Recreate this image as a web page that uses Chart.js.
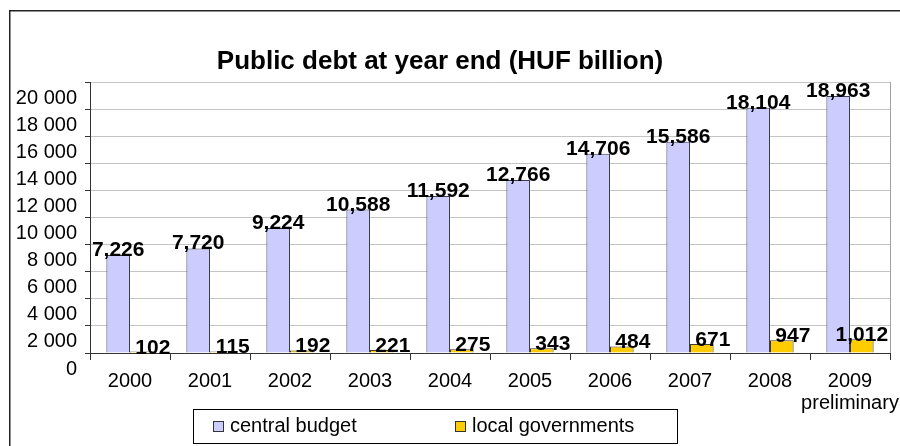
<!DOCTYPE html>
<html>
<head>
<meta charset="utf-8">
<title>Public debt at year end</title>
<script src="https://cdn.jsdelivr.net/npm/chart.js@4.4.1/dist/chart.umd.min.js"></script>
<style>
  html, body { margin: 0; padding: 0; background: #fff; }
  #debtChart { display: block; }
</style>
</head>
<body>
<canvas id="debtChart" width="900" height="446"></canvas>
<script>
// HUF billion, year end
const years = ["2000", "2001", "2002", "2003", "2004", "2005", "2006", "2007", "2008", ["2009", "preliminary"]];
const centralBudget = [7226, 7720, 9224, 10588, 11592, 12766, 14706, 15586, 18104, 18963];
const localGovernments = [102, 115, 192, 221, 275, 343, 484, 671, 947, 1012];
const yMin = 0;
const yMax = 20000;
const yStep = 2000;

const FONT = "Arial, 'Liberation Sans', sans-serif";
Chart.defaults.font.family = FONT;
Chart.defaults.color = "#000";

// 20000 -> "20 000"
function spaced(v) {
  return String(v).replace(/\B(?=(\d{3})+(?!\d))/g, " ");
}
// 18963 -> "18,963"
function commas(v) {
  return String(v).replace(/\B(?=(\d{3})+(?!\d))/g, ",");
}

// white page, outer frame, title and the plot-area border
const frame = {
  id: "frame",
  beforeDraw(chart) {
    const ctx = chart.ctx;
    const a = chart.chartArea;
    ctx.save();
    ctx.fillStyle = "#fff";
    ctx.fillRect(0, 0, chart.width, chart.height);
    ctx.strokeStyle = "#222";
    ctx.lineWidth = 1.5;
    ctx.strokeRect(9.75, 10.75, chart.width, chart.height);

    ctx.font = "bold 26px " + FONT;
    ctx.fillStyle = "#000";
    ctx.textAlign = "center";
    ctx.textBaseline = "middle";
    ctx.fillText("Public debt at year end (HUF billion)", 440, 62);

    ctx.strokeStyle = "#a0a0a0";
    ctx.lineWidth = 1;
    ctx.beginPath();
    ctx.moveTo(a.right + 0.5, a.top);
    ctx.lineTo(a.right + 0.5, a.bottom);
    ctx.stroke();
    ctx.restore();
  }
};

// bold value labels over the bars
const valueLabels = {
  id: "valueLabels",
  afterDatasetsDraw(chart) {
    const ctx = chart.ctx;
    ctx.save();
    ctx.font = "bold 21px " + FONT;
    ctx.fillStyle = "#000";
    ctx.textAlign = "center";
    ctx.textBaseline = "alphabetic";
    chart.data.datasets.forEach((ds, di) => {
      const last = ds.data.length - 1;
      chart.getDatasetMeta(di).data.forEach((bar, i) => {
        const dx = di === 1 && i < last ? 11 : 0;
        const dy = di === 1 ? 2 : 1;
        ctx.fillText(commas(ds.data[i]), bar.x + dx, bar.y + dy);
      });
    });
    ctx.restore();
  }
};

// boxed legend under the axis
const boxedLegend = {
  id: "boxedLegend",
  afterDraw(chart) {
    const ctx = chart.ctx;
    const left = 193, top = 409.5, width = 484, height = 34;
    const itemX = [213, 455];
    const midY = top + height / 2;
    ctx.save();
    ctx.strokeStyle = "#000";
    ctx.lineWidth = 1;
    ctx.strokeRect(left + 0.5, top, width, height);
    ctx.font = "20px " + FONT;
    ctx.textAlign = "left";
    ctx.textBaseline = "middle";
    chart.data.datasets.forEach((ds, i) => {
      const x = itemX[i];
      ctx.fillStyle = ds.backgroundColor;
      ctx.fillRect(x, midY - 5.5, 11, 11);
      ctx.strokeStyle = "#333";
      ctx.strokeRect(x + 0.5, midY - 5, 10, 10);
      ctx.fillStyle = "#000";
      ctx.fillText(ds.label, x + 17, midY);
    });
    ctx.restore();
  }
};

new Chart(document.getElementById("debtChart"), {
  type: "bar",
  data: {
    labels: years,
    datasets: [
      {
        label: "central budget",
        data: centralBudget,
        backgroundColor: "#ccccff",
        borderColor: "#3c3c50",
        borderWidth: 1
      },
      {
        label: "local governments",
        data: localGovernments,
        backgroundColor: "#ffcc00",
        borderColor: "#3c3c28",
        borderWidth: 1
      }
    ]
  },
  options: {
    responsive: false,
    animation: false,
    devicePixelRatio: 1,
    layout: { padding: { left: 10, right: 10, top: 82, bottom: 33 } },
    datasets: {
      bar: { categoryPercentage: 0.59, barPercentage: 1 }
    },
    plugins: {
      legend: { display: false },
      title: { display: false },
      tooltip: { enabled: false }
    },
    scales: {
      x: {
        grid: {
          offset: true,
          drawOnChartArea: false,
          tickLength: 7,
          tickColor: "#333"
        },
        border: { color: "#333", width: 1 },
        ticks: {
          font: { size: 20, lineHeight: 1.1 },
          padding: 10,
          maxRotation: 0,
          autoSkip: false
        },
        afterFit(scale) {
          // let "preliminary" run past the plot edge instead of squeezing it
          scale.height = 60;
          scale.paddingLeft = 0;
          scale.paddingRight = 0;
        }
      },
      y: {
        min: yMin,
        max: yMax,
        grid: {
          color: "#c4c4c4",
          tickColor: "#333",
          tickLength: 5
        },
        border: { color: "#333", width: 1 },
        ticks: {
          stepSize: yStep,
          font: { size: 20 },
          padding: 8,
          labelOffset: 16,
          callback: (v) => spaced(v)
        },
        afterFit(scale) { scale.width = 80; }
      }
    }
  },
  plugins: [frame, valueLabels, boxedLegend]
});
</script>
</body>
</html>
